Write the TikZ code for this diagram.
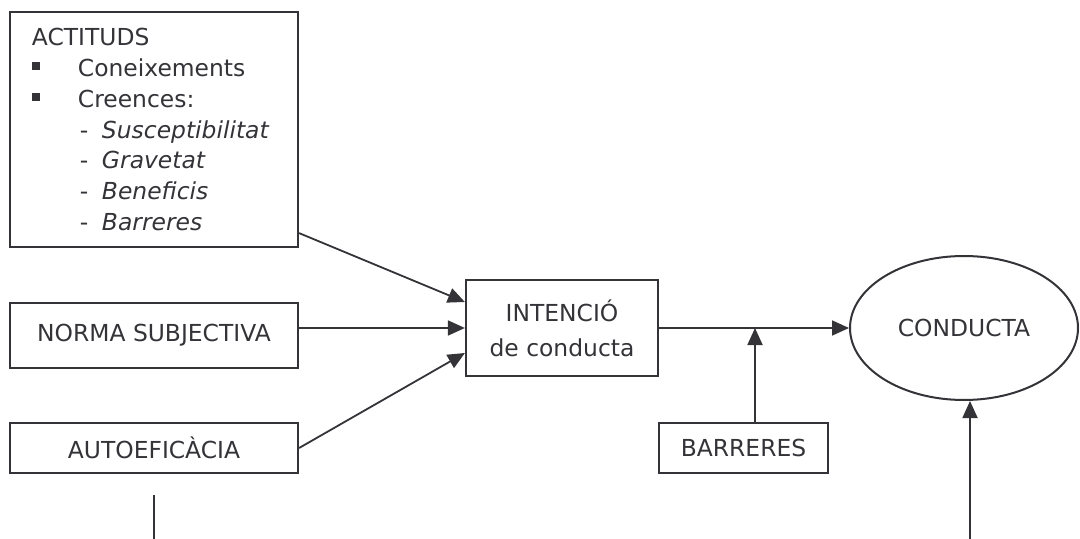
\documentclass[tikz,border=0pt]{standalone}
\usepackage{fontspec}
\setmainfont{DejaVu Sans}
\usetikzlibrary{arrows.meta}
\usetikzlibrary{shapes.geometric}
\usetikzlibrary{calc}
\definecolor{gris}{RGB}{51,51,56}
\newcommand{\quadret}{\makebox[23pt][l]{\rule[3pt]{4pt}{4pt}}}
\newcommand{\guio}{\hspace*{24pt}\makebox[11pt][l]{-}}

\begin{document}
\begin{tikzpicture}[x=0.5pt,y=-0.5pt]

\tikzstyle{every node}=[font=\fontsize{11.7}{15.4}\selectfont, text=gris]
\tikzstyle{caixa}=[draw=gris, line width=1.1pt, rectangle, align=center, inner sep=0pt]
\tikzstyle{fletxa}=[draw=gris, line width=0.9pt, -{Triangle[length=8.5pt,width=7.5pt]}]

\useasboundingbox (0,0) rectangle (1080,539);

\node[caixa, align=left, text width=122pt, minimum width=144pt, minimum height=117.5pt]
	(actitud) at (154,129.5)
	{ACTITUDS\\
	\quadret Coneixements\\
	\quadret Creences:\\
	\guio\textit{Susceptibilitat}\\
	\guio\textit{Gravetat}\\
	\guio\textit{Beneficis}\\
	\guio\textit{Barreres}};
\node[caixa, minimum width=144pt, minimum height=32.5pt] (norma) at (154,335.5) {NORMA SUBJECTIVA};
\node[caixa, minimum width=144pt, minimum height=25pt] (autoef) at (154,448) {AUTOEFICÀCIA};
\node[caixa, minimum width=96pt, minimum height=48pt,
	font=\fontsize{11.7}{17.5}\selectfont] (intencio) at (562,328) {INTENCIÓ\\de conducta};
\node[caixa, minimum width=84.5pt, minimum height=25pt] (barreres) at (743.5,448) {BARRERES};
\node[draw=gris, line width=1pt, ellipse, inner sep=0pt,
	minimum width=114pt, minimum height=72pt] (conducta) at (964,328) {CONDUCTA};

\coordinate (cruce) at (755,328);
\coordinate (baixA) at (154,539);
\coordinate (dalta) at (154,495);
\coordinate (baixB) at (970,539);

\draw[fletxa] ($(actitud.south east)+(0,-15)$) -- ($(intencio.west)+(0,-26)$);
\draw[fletxa] (norma.east |- intencio.west) -- (intencio.west);
\draw[fletxa] (autoef.east) -- ($(intencio.west)+(0,25)$);
\draw[fletxa] (intencio.east) -- (conducta.west);
\draw[fletxa] (barreres.north -| cruce) -- (cruce);
\draw[draw=gris, line width=0.9pt] (baixA) -- (dalta);
\draw[fletxa] (baixB) -- (baixB |- conducta.south);
\end{tikzpicture}
\end{document}
